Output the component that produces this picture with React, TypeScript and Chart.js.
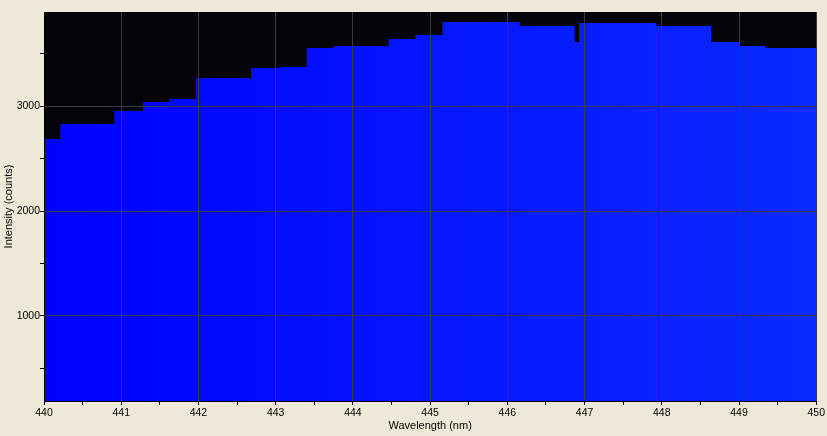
import React, { useEffect, useRef } from 'react';
import { Chart, registerables } from 'chart.js';

Chart.register(...registerables);

// Left edge (nm) of each constant-intensity step, last entry closes the final step
const stepStartNm = [
  440.0, 440.21, 440.91, 441.28, 441.62, 441.97, 442.68, 443.04, 443.4, 443.75,
  444.46, 444.81, 445.16, 446.16, 446.87, 446.93, 447.93, 448.64, 449.0, 449.34, 450.0,
];
const intensityCounts = [
  2688, 2830, 2955, 3041, 3070, 3270, 3365, 3374, 3556, 3575,
  3642, 3680, 3804, 3766, 3614, 3795, 3766, 3614, 3575, 3556, 3556,
];
const xTickStepNm = 0.5;
const yMajorTicks = [1000, 2000, 3000];
const yAllTicks = [500, 1000, 1500, 2000, 2500, 3000, 3500];
const yRange = [189, 3899];
const xRange = [440, 450];

const FONT = { family: "'Liberation Sans', Arial, sans-serif", size: 11 };
const TICK_FONT = { family: "'Liberation Sans', Arial, sans-serif", size: 10.5 };

export default function App() {
  const ref = useRef<HTMLCanvasElement | null>(null);

  useEffect(() => {
    if (!ref.current) return;
    const points = stepStartNm.map((x, i) => ({ x, y: intensityCounts[i] }));

    const plotBg = {
      id: 'plotBg',
      beforeDatasetsDraw(chart: any) {
        const { ctx, chartArea } = chart;
        ctx.save();
        ctx.fillStyle = '#040305';
        ctx.fillRect(chartArea.left, chartArea.top, chartArea.right - chartArea.left, chartArea.bottom - chartArea.top);
        ctx.restore();
      },
    };

    const chart = new Chart(ref.current, {
      type: 'line',
      data: {
        datasets: [
          {
            data: points,
            stepped: true,
            fill: 'start',
            borderColor: 'rgba(0,0,0,0)',
            borderWidth: 0,
            pointRadius: 0,
            backgroundColor: (c: any) => {
              const area = c.chart.chartArea;
              if (!area) return 'rgb(0,0,255)';
              const g = c.chart.ctx.createLinearGradient(area.left, 0, area.right, 0);
              g.addColorStop(0, 'rgb(0,0,255)');
              g.addColorStop(1, 'rgb(10,42,255)');
              return g;
            },
          },
        ],
      },
      options: {
        responsive: false,
        devicePixelRatio: 1,
        animation: false,
        layout: { padding: { top: 12, right: 10, left: 0, bottom: 0 } },
        plugins: { legend: { display: false }, tooltip: { enabled: false } },
        scales: {
          x: {
            type: 'linear',
            min: xRange[0],
            max: xRange[1],
            z: 1,
            afterFit: (s: any) => { s.height = 35; },
            ticks: {
              stepSize: xTickStepNm,
              autoSkip: false,
              maxRotation: 0,
              padding: 2,
              color: '#000',
              font: TICK_FONT,
              callback: (v: any) => (Math.abs(v - Math.round(v)) < 1e-6 ? String(Math.round(v)) : ''),
            },
            grid: {
              z: 1,
              color: (c: any) =>
                c.tick && Math.abs(c.tick.value - Math.round(c.tick.value)) < 1e-6 ? '#3a3a3a' : 'rgba(0,0,0,0)',
              tickColor: '#000',
              tickLength: 4,
            },
            border: { color: '#000', width: 1, z: 2 },
            title: { display: true, text: 'Wavelength (nm)', color: '#000', font: FONT, padding: { top: 0, bottom: 3 } },
          },
          y: {
            type: 'linear',
            min: yRange[0],
            max: yRange[1],
            z: 1,
            afterFit: (s: any) => { s.width = 44; },
            afterBuildTicks: (s: any) => { s.ticks = yAllTicks.map((value) => ({ value })); },
            ticks: {
              padding: 0,
              color: '#000',
              font: TICK_FONT,
              callback: (v: any) => (yMajorTicks.includes(v) ? String(v) : ''),
            },
            grid: {
              z: 1,
              color: (c: any) => (c.tick && yMajorTicks.includes(c.tick.value) ? '#3a3a3a' : 'rgba(0,0,0,0)'),
              tickColor: '#000',
              tickLength: 4,
            },
            border: { color: '#000', width: 1, z: 2 },
            title: { display: true, text: 'Intensity (counts)', color: '#000', font: FONT, padding: { top: 2, bottom: 0 } },
          },
        },
      },
      plugins: [plotBg],
    });
    return () => chart.destroy();
  }, []);

  return (
    <div style={{ position: 'fixed', left: 0, top: 0, width: 827, height: 436, background: '#ECE9D8' }}>
      <canvas ref={ref} width={827} height={436} style={{ display: 'block' }} />
    </div>
  );
}
